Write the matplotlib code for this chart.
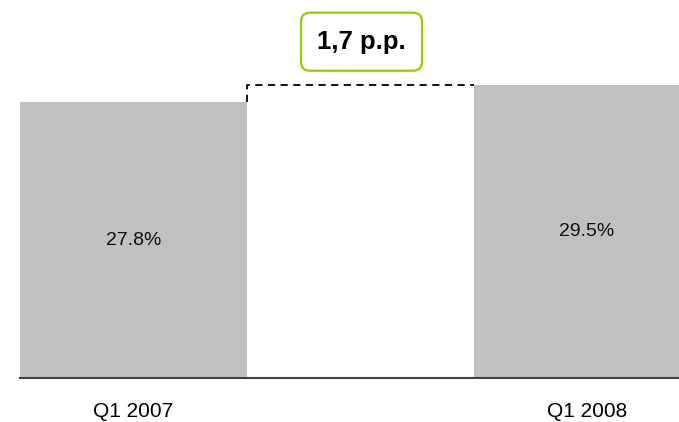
import matplotlib.pyplot as plt
from matplotlib.patches import FancyBboxPatch

# data
quarters = ['Q1 2007', 'Q1 2008']
margin = [27.8, 29.5]
diff_label = '1,7 p.p.'

plt.rcParams['font.family'] = ['Liberation Sans', 'DejaVu Sans']

fig = plt.figure(figsize=(6.79, 4.22), dpi=100)
ax = fig.add_axes([20 / 679, 44 / 422, 659 / 679, 378 / 422])

pos = [0, 2]
ax.bar(pos, margin, width=1.0, color='#c0c0c0', zorder=2)

for x, v in zip(pos, margin):
    ax.text(x, v / 2, f'{v:.1f}%', ha='center', va='center', fontsize=14, color='#111111')

# dashed bracket from bar 1 to bar 2 level
ax.plot([0.5, 0.5, 1.5], [margin[0], margin[1], margin[1]], color='black',
        linestyle=(0, (4, 3)), linewidth=1.3, zorder=3, clip_on=False)

ax.set_xlim(-0.5, 2.406)
ax.set_ylim(0, 38.1)
ax.set_xticks(pos)
ax.set_xticklabels(quarters, fontsize=15)
ax.tick_params(axis='x', length=0, pad=17.5)
ax.set_yticks([])
for s in ['top', 'right', 'left']:
    ax.spines[s].set_visible(False)
ax.spines['bottom'].set_color('#404040')
ax.spines['bottom'].set_linewidth(1.5)
ax.spines['bottom'].set_zorder(4)

# difference box
box = FancyBboxPatch((3.01, 3.513), 1.21, 0.58, boxstyle='round,pad=0,rounding_size=0.09',
                     transform=fig.dpi_scale_trans, facecolor='white', edgecolor='#9acd00',
                     linewidth=1.6)
fig.patches.append(box)
fig.text(3.615, 3.80, diff_label, transform=fig.dpi_scale_trans, ha='center', va='center',
         fontsize=18.5, fontweight='bold', color='black')

fig.savefig('out.png', dpi=100)
